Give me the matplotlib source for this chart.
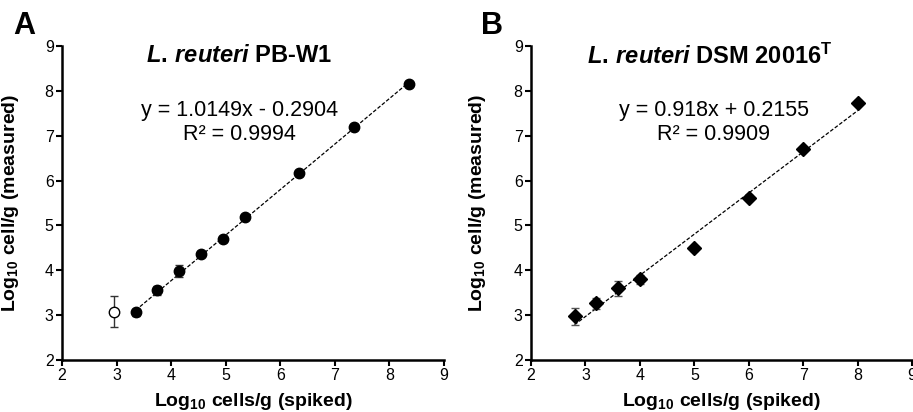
"""Two calibration panels: measured vs spiked log10 cell counts for L. reuteri strains."""
import matplotlib
matplotlib.use("Agg")
import matplotlib.pyplot as plt

plt.rcParams["font.family"] = ["Liberation Sans", "DejaVu Sans"]
plt.rcParams["mathtext.fontset"] = "custom"
plt.rcParams["mathtext.rm"] = "Liberation Sans:bold"
plt.rcParams["mathtext.it"] = "Liberation Sans:bold:italic"
plt.rcParams["mathtext.bf"] = "Liberation Sans:bold"

# panel A: L. reuteri PB-W1
a_x = [3.35, 3.75, 4.15, 4.55, 4.95, 5.35, 6.35, 7.35, 8.35]
a_y = [3.06, 3.55, 3.99, 4.37, 4.69, 5.19, 6.16, 7.19, 8.15]
a_err = [0.07, 0.09, 0.13, 0.05, 0.05, 0.05, 0.05, 0.05, 0.05]
a_out_x = [2.95]
a_out_y = [3.08]
a_out_err = [0.34]
a_slope, a_icpt = 1.0149, -0.2904

# panel B: L. reuteri DSM 20016T
b_x = [2.8, 3.2, 3.6, 4.0, 5.0, 6.0, 7.0, 8.0]
b_y = [2.97, 3.26, 3.60, 3.80, 4.49, 5.62, 6.70, 7.74]
b_err = [0.20, 0.13, 0.17, 0.10, 0.05, 0.05, 0.05, 0.05]
b_slope, b_icpt = 0.918, 0.2155

fig = plt.figure(figsize=(9.13, 4.12), dpi=100)
ax_a = fig.add_axes([0.0679, 0.1262, 0.4184, 0.7621])
ax_b = fig.add_axes([0.5816, 0.1262, 0.4174, 0.7621])


def style(ax, ylx):
    ax.set_xlim(2, 9)
    ax.set_ylim(2, 9)
    ax.set_xticks(range(2, 10))
    ax.set_yticks(range(2, 10))
    for side in ("top", "right"):
        ax.spines[side].set_visible(False)
    for side in ("left", "bottom"):
        ax.spines[side].set_linewidth(1.8)
    ax.tick_params(direction="out", length=4, width=1.5, labelsize=11.5, pad=2)
    ax.set_xlabel("Log$_{10}$ cells/g (spiked)", fontsize=14, fontweight="bold")
    ax.set_ylabel("Log$_{10}$ cell/g (measured)", fontsize=14, fontweight="bold")
    ax.xaxis.set_label_coords(0.5, -0.098)
    ax.yaxis.set_label_coords(ylx, 0.5)


# A
xs = [a_x[0], a_x[-1]]
ax_a.plot(xs, [a_slope * v + a_icpt for v in xs], color="black", lw=0.9,
          linestyle=(0, (3, 1.5)), zorder=2)
ax_a.errorbar(a_x, a_y, yerr=a_err, fmt="o", color="black", ms=7.5,
              ecolor="#333333", elinewidth=1, capsize=3, zorder=3)
ax_a.errorbar(a_out_x, a_out_y, yerr=a_out_err, fmt="o", mfc="white", mec="black",
              ms=7.5, ecolor="#333333", elinewidth=1, capsize=3, zorder=3)
ax_a.text(5.24, 8.78, "$\\mathit{L.\\,reuteri}$ PB-W1", ha="center",
          va="center", fontsize=17, fontweight="bold")
ax_a.text(5.26, 7.29, "y = 1.0149x - 0.2904\nR² = 0.9994", ha="center",
          va="center", fontsize=15.5, linespacing=1.2)
style(ax_a, -0.108)

# B
xs = [b_x[0], b_x[-1]]
ax_b.plot(xs, [b_slope * v + b_icpt for v in xs], color="black", lw=0.9,
          linestyle=(0, (3, 1.5)), zorder=2)
ax_b.errorbar(b_x, b_y, yerr=b_err, fmt="D", color="black", ms=7,
              ecolor="#555555", elinewidth=1, capsize=3, zorder=3)
ax_b.text(5.29, 8.78, "$\\mathit{L.\\,reuteri}$ DSM 20016$^{\\mathrm{T}}$",
          ha="center", va="center", fontsize=17, fontweight="bold")
ax_b.text(5.36, 7.29, "y = 0.918x + 0.2155\nR² = 0.9909", ha="center",
          va="center", fontsize=15.5, linespacing=1.2)
style(ax_b, -0.113)

fig.text(24 / 913, 1 - 26 / 412, "A", ha="center", va="center", fontsize=22,
         fontweight="bold")
fig.text(492 / 913, 1 - 26 / 412, "B", ha="center", va="center", fontsize=22,
         fontweight="bold")

fig.savefig("out.png", dpi=100)
